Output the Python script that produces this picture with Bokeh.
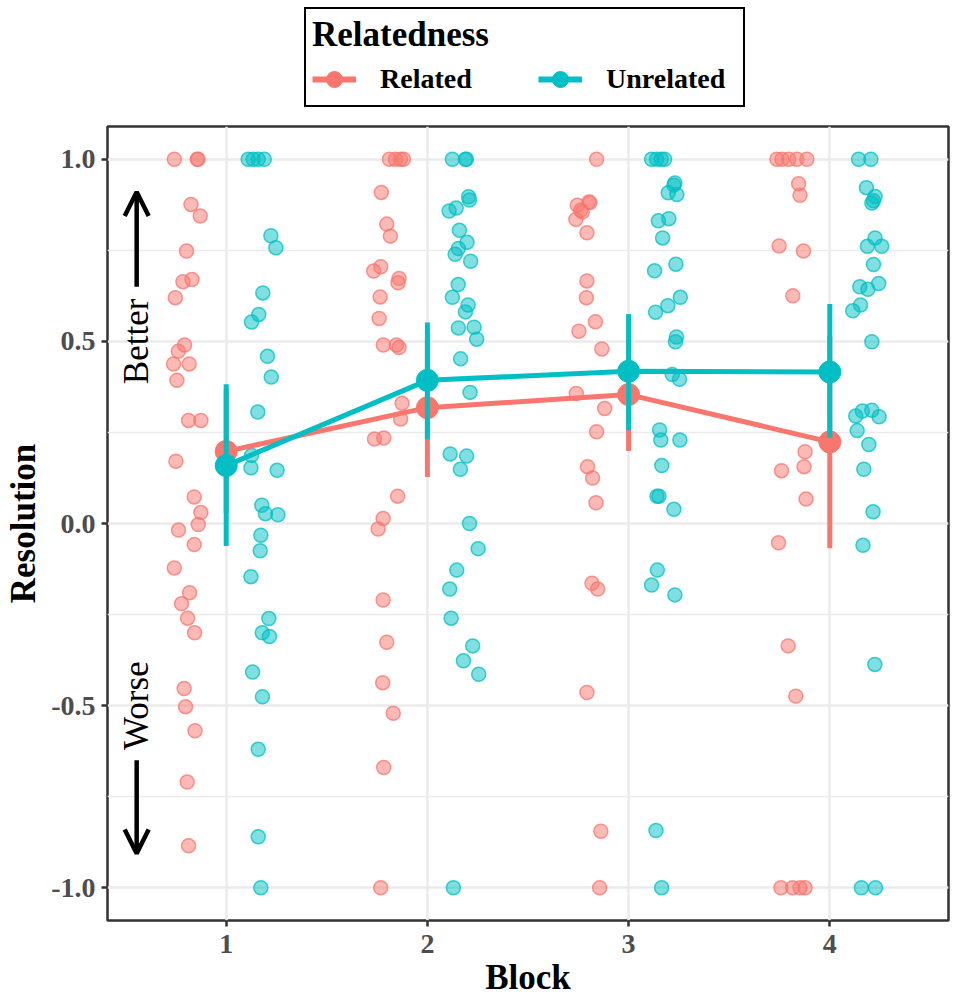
import math
from bokeh.plotting import figure
from bokeh.layouts import column
from bokeh.models import FixedTicker, Legend, LegendItem, Arrow, OpenHead, Range1d
from bokeh.embed import file_html
from bokeh.resources import INLINE
from bokeh.core.properties import value

# ---------------- data ----------------
blocks = [1, 2, 3, 4]
block_labels = ["1", "2", "3", "4"]
y_ticks = [-1.0, -0.5, 0.0, 0.5, 1.0]
y_tick_labels = ["-1.0", "-0.5", "0.0", "0.5", "1.0"]
y_minor_ticks = [-0.75, -0.25, 0.25, 0.75]
groups = ["Related", "Unrelated"]

related_mean = [0.198, 0.318, 0.354, 0.224]
related_lo = [0.028, 0.128, 0.199, -0.068]
related_hi = [0.368, 0.508, 0.509, 0.516]
unrelated_mean = [0.159, 0.393, 0.418, 0.416]
unrelated_lo = [-0.062, 0.231, 0.256, 0.236]
unrelated_hi = [0.382, 0.552, 0.575, 0.603]

related_x = [
    0.742, 0.856, 0.860, 0.825, 0.871, 0.803, 0.785, 0.830, 0.747, 0.793, 0.762, 0.738, 0.816, 0.755, 0.813, 0.874,
    0.750, 0.841, 0.874, 0.861, 0.763, 0.841, 0.742, 0.818, 0.778, 0.808, 0.843, 0.791, 0.798, 0.845, 0.806, 0.813,
    1.811, 1.841, 1.866, 1.881, 1.771, 1.798, 1.816, 1.768, 1.733, 1.859, 1.854, 1.765, 1.760, 1.781, 1.846, 1.859,
    1.874, 1.867, 1.737, 1.783, 1.852, 1.780, 1.755, 1.780, 1.798, 1.778, 1.830, 1.783, 1.768,
    2.841, 2.803, 2.808, 2.745, 2.762, 2.770, 2.738, 2.793, 2.793, 2.790, 2.835, 2.753, 2.867, 2.740, 2.881, 2.841,
    2.796, 2.821, 2.838, 2.818, 2.846, 2.793, 2.862, 2.856,
    3.737, 3.762, 3.796, 3.836, 3.886, 3.845, 3.852, 3.748, 3.869, 3.816, 3.877, 3.872, 3.760, 3.882, 3.745, 3.793,
    3.831, 3.757, 3.815, 3.852, 3.877,
]
related_y = [
    1.0, 1.0, 1.0, 0.876, 0.844, 0.748, 0.664, 0.670, 0.620, 0.490, 0.473, 0.438, 0.438, 0.393, 0.283, 0.283,
    0.171, 0.073, 0.030, -0.003, -0.018, -0.058, -0.122, -0.190, -0.220, -0.260, -0.300, -0.453, -0.503, -0.569, -0.710, -0.885,
    1.0, 1.0, 1.0, 1.0, 0.909, 0.822, 0.789, 0.705, 0.693, 0.673, 0.661, 0.622, 0.563, 0.490, 0.490, 0.483,
    0.330, 0.287, 0.232, 0.235, 0.075, 0.014, -0.015, -0.210, -0.326, -0.437, -0.521, -0.670, -1.0,
    1.0, 0.883, 0.881, 0.874, 0.860, 0.855, 0.835, 0.798, 0.666, 0.620, 0.554, 0.528, 0.479, 0.357, 0.316, 0.252,
    0.156, 0.125, 0.057, -0.164, -0.180, -0.464, -0.845, -1.0,
    1.0, 1.0, 1.0, 1.0, 1.0, 0.933, 0.901, 0.762, 0.748, 0.625, 0.197, 0.156, 0.145, 0.067, -0.053, -0.336,
    -0.474, -1.0, -1.0, -1.0, -1.0,
]
unrelated_x = [
    1.109, 1.134, 1.159, 1.189, 1.222, 1.247, 1.182, 1.162, 1.126, 1.205, 1.224, 1.157, 1.126, 1.123, 1.253, 1.177,
    1.195, 1.257, 1.172, 1.169, 1.123, 1.212, 1.179, 1.215, 1.131, 1.180, 1.159, 1.159, 1.172,
    2.124, 2.189, 2.194, 2.205, 2.209, 2.143, 2.108, 2.159, 2.197, 2.154, 2.138, 2.215, 2.153, 2.124, 2.202, 2.189,
    2.154, 2.232, 2.245, 2.165, 2.212, 2.113, 2.195, 2.164, 2.209, 2.252, 2.146, 2.111, 2.118, 2.225, 2.179, 2.255, 2.129,
    3.114, 3.139, 3.162, 3.179, 3.230, 3.225, 3.197, 3.240, 3.200, 3.148, 3.169, 3.235, 3.129, 3.257, 3.195, 3.134,
    3.238, 3.233, 3.217, 3.253, 3.154, 3.160, 3.255, 3.165, 3.141, 3.151, 3.225, 3.143, 3.114, 3.230, 3.136, 3.164,
    4.143, 4.204, 4.182, 4.225, 4.217, 4.209, 4.225, 4.187, 4.258, 4.217, 4.243, 4.149, 4.189, 4.153, 4.114, 4.209,
    4.129, 4.162, 4.209, 4.245, 4.136, 4.194, 4.169, 4.215, 4.165, 4.224, 4.157, 4.227,
]
unrelated_y = [
    1.0, 1.0, 1.0, 1.0, 0.790, 0.757, 0.633, 0.574, 0.553, 0.459, 0.402, 0.306, 0.187, 0.153, 0.146, 0.050,
    0.027, 0.024, -0.032, -0.075, -0.146, -0.261, -0.300, -0.310, -0.408, -0.476, -0.620, -0.860, -1.0,
    1.0, 1.0, 1.0, 0.897, 0.888, 0.866, 0.858, 0.805, 0.772, 0.755, 0.739, 0.720, 0.656, 0.621, 0.600, 0.581,
    0.537, 0.539, 0.506, 0.452, 0.360, 0.191, 0.185, 0.149, 0.0, -0.069, -0.128, -0.180, -0.260, -0.336, -0.377, -0.414, -1.0,
    1.0, 1.0, 1.0, 1.0, 0.935, 0.929, 0.908, 0.903, 0.837, 0.831, 0.784, 0.712, 0.694, 0.621, 0.598, 0.580,
    0.512, 0.499, 0.409, 0.396, 0.257, 0.229, 0.229, 0.159, 0.075, 0.075, 0.039, -0.128, -0.169, -0.196, -0.843, -1.0,
    1.0, 1.0, 0.922, 0.898, 0.886, 0.880, 0.784, 0.761, 0.761, 0.711, 0.659, 0.650, 0.643, 0.600, 0.584, 0.499,
    0.295, 0.309, 0.311, 0.293, 0.255, 0.217, 0.149, 0.032, -0.060, -0.387, -1.0, -1.0,
]

# annotation positions (data units)
ann_x = 0.555
better_y = 0.5
worse_y = -0.5
better_arrow = (0.65, 0.91)
worse_arrow = (-0.65, -0.906)

RED = "#F8766D"
CYAN = "#00BFC4"
SERIF = "Liberation Serif"

# ---------------- legend strip ----------------
lf = figure(width=952, height=110, output_backend="svg", toolbar_location=None,
            x_range=Range1d(0, 1), y_range=Range1d(0, 1),
            x_axis_type=None, y_axis_type=None, min_border=0)
lf.outline_line_color = None
lf.background_fill_color = "white"
lf.border_fill_color = "white"
# hidden proxy renderers (same data as the mean lines) that only feed the legend glyphs
leg_r_line = lf.line(blocks, related_mean, line_color=RED, line_width=6, visible=False)
leg_r_pt = lf.scatter(blocks, related_mean, size=19, fill_color=RED, line_color=RED, visible=False)
leg_u_line = lf.line(blocks, unrelated_mean, line_color=CYAN, line_width=6, visible=False)
leg_u_pt = lf.scatter(blocks, unrelated_mean, size=19, fill_color=CYAN, line_color=CYAN, visible=False)

legend = Legend(items=[LegendItem(label=groups[0], renderers=[leg_r_line, leg_r_pt]),
                       LegendItem(label=groups[1], renderers=[leg_u_line, leg_u_pt])],
                orientation="horizontal", title="Relatedness", location=(197, 3))
legend.title_text_font = SERIF
legend.title_text_font_style = "bold"
legend.title_text_font_size = "35px"
legend.title_text_color = "black"
legend.title_standoff = 4
legend.label_text_font = SERIF
legend.label_text_font_style = "bold"
legend.label_text_font_size = "28px"
legend.label_text_color = "black"
legend.label_standoff = 24
legend.glyph_width = 44
legend.glyph_height = 40
legend.label_height = 30
legend.label_width = 131
legend.spacing = 27
legend.padding = 6
legend.margin = 0
legend.border_line_color = "black"
legend.border_line_alpha = 1.0
legend.border_line_width = 2
legend.background_fill_color = "white"
legend.background_fill_alpha = 1
legend.inactive_fill_alpha = 0.0
lf.add_layout(legend)

# ---------------- main figure ----------------
p = figure(width=952, height=890, output_backend="svg", toolbar_location=None,
           x_range=Range1d(0.41, 4.59), y_range=Range1d(-1.09, 1.09),
           min_border_left=107, min_border_right=4, min_border_top=16, min_border_bottom=80)
p.background_fill_color = "white"
p.border_fill_color = "white"
p.outline_line_color = "#333333"
p.outline_line_width = 2.5

p.xaxis.ticker = FixedTicker(ticks=blocks)
p.yaxis.ticker = FixedTicker(ticks=y_ticks, minor_ticks=y_minor_ticks)
p.xaxis.major_label_overrides = {b: l for b, l in zip(blocks, block_labels)}
p.yaxis.major_label_overrides = {t: l for t, l in zip(y_ticks, y_tick_labels)}
p.xgrid.grid_line_color = "#EBEBEB"
p.xgrid.grid_line_width = 2.5
p.ygrid.grid_line_color = "#EBEBEB"
p.ygrid.grid_line_width = 2.5
p.ygrid.minor_grid_line_color = "#EBEBEB"
p.ygrid.minor_grid_line_width = 1.4

for ax in (p.xaxis, p.yaxis):
    ax.axis_line_color = None
    ax.major_tick_line_color = "#333333"
    ax.major_tick_line_width = 2.5
    ax.major_tick_out = 6
    ax.major_tick_in = 0
    ax.minor_tick_line_color = None
    ax.major_label_text_font = SERIF
    ax.major_label_text_font_style = "bold"
    ax.major_label_text_font_size = "28px"
    ax.major_label_text_color = "#4D4D4D"
    ax.axis_label_text_font = SERIF
    ax.axis_label_text_font_style = "bold"
    ax.axis_label_text_font_size = "35px"
    ax.axis_label_text_color = "black"

p.xaxis.axis_label = "Block"
p.yaxis.axis_label = "Resolution"
p.xaxis.major_label_standoff = 8
p.xaxis.axis_label_standoff = 2
p.yaxis.major_label_standoff = 6
p.yaxis.axis_label_standoff = 5

# jittered raw points
p.scatter(related_x, related_y, size=14, fill_color=RED, fill_alpha=0.5,
          line_color=RED, line_alpha=0.75, line_width=1.5)
p.scatter(unrelated_x, unrelated_y, size=14, fill_color=CYAN, fill_alpha=0.5,
          line_color=CYAN, line_alpha=0.75, line_width=1.5)

# mean lines
p.line(blocks, related_mean, line_color=RED, line_width=5)
p.line(blocks, unrelated_mean, line_color=CYAN, line_width=5)

# point ranges
p.segment(blocks, related_lo, blocks, related_hi, line_color=RED, line_width=5)
p.scatter(blocks, related_mean, size=22, fill_color=RED, line_color=RED)
p.segment(blocks, unrelated_lo, blocks, unrelated_hi, line_color=CYAN, line_width=5)
p.scatter(blocks, unrelated_mean, size=22, fill_color=CYAN, line_color=CYAN)

# annotations
p.text(x=[ann_x, ann_x], y=[better_y, worse_y], text=["Better", "Worse"], angle=math.pi / 2,
       text_align="center", text_baseline="middle", text_font=value(SERIF),
       text_font_size=value("35px"), text_color="black")
p.add_layout(Arrow(end=OpenHead(size=24, line_width=4.5, line_color="black"),
                   x_start=ann_x, y_start=better_arrow[0], x_end=ann_x, y_end=better_arrow[1],
                   line_width=4.5, line_color="black"))
p.add_layout(Arrow(end=OpenHead(size=24, line_width=4.5, line_color="black"),
                   x_start=ann_x, y_start=worse_arrow[0], x_end=ann_x, y_end=worse_arrow[1],
                   line_width=4.5, line_color="black"))

layout = column(lf, p, spacing=0)
open("out.html", "w").write(file_html(layout, INLINE))
